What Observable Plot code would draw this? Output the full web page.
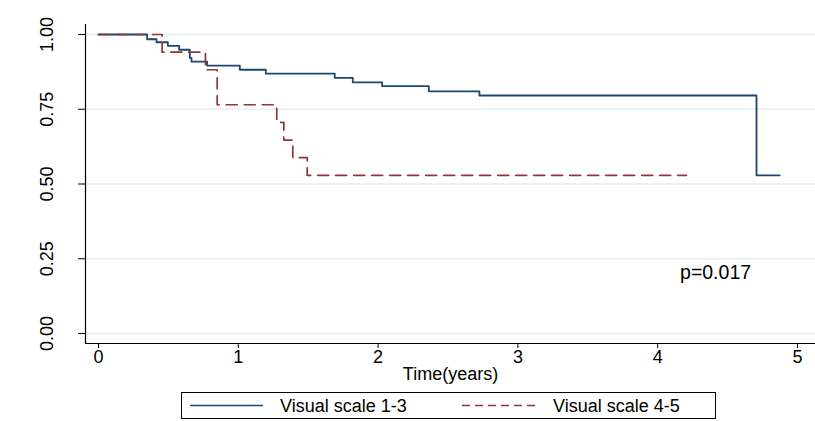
<!DOCTYPE html>
<html><head><meta charset="utf-8">
<script src="https://cdn.jsdelivr.net/npm/d3@7"></script>
<script src="https://cdn.jsdelivr.net/npm/@observablehq/plot@0.6"></script>
<style>
body{margin:0;background:#fff;font-family:"Liberation Sans",Arial,sans-serif;}
#chart{position:relative;width:815px;height:421px;overflow:hidden;}
#legend{position:absolute;left:181px;top:392px;}
</style></head>
<body><div id="chart"></div>
<script>
// Kaplan-Meier estimates
const seriesNames = ["Visual scale 1-3", "Visual scale 4-5"];
const blueTimes = [0, 0.348, 0.415, 0.496, 0.577, 0.653, 0.665, 0.777, 1.011, 1.197, 1.690, 1.819, 2.029, 2.363, 2.725, 4.707, 4.873];
const blueSurv  = [1, 0.984, 0.974, 0.962, 0.949, 0.922, 0.909, 0.896, 0.882, 0.869, 0.855, 0.840, 0.827, 0.810, 0.796, 0.529, 0.529];
const redTimes  = [0, 0.455, 0.765, 0.849, 1.275, 1.326, 1.390, 1.493, 4.206];
const redSurv   = [1, 0.941, 0.882, 0.765, 0.706, 0.647, 0.588, 0.529, 0.529];
const xTicks = [0, 1, 2, 3, 4, 5];
const yTicks = [0, 0.25, 0.5, 0.75, 1];
const xTitle = "Time(years)";
const pLabel = "p=0.017";
const colors = ["#1a476f", "#90353b"];

const rows = [
  ...blueTimes.map((t, i) => ({series: seriesNames[0], time: t, surv: blueSurv[i]})),
  ...redTimes.map((t, i) => ({series: seriesNames[1], time: t, surv: redSurv[i]}))
];
const xDomain = [-0.093, 5.129];
const yDomain = [-0.0334, 1.0334];
const font = "'Liberation Sans', Arial, sans-serif";

const plot = Plot.plot({
  width: 815, height: 390,
  marginLeft: 85, marginRight: 0, marginTop: 24, marginBottom: 47,
  style: {fontFamily: font, fontSize: "18px", color: "#000", background: "#fff", overflow: "visible"},
  x: {domain: xDomain},
  y: {domain: yDomain},
  marks: [
    Plot.ruleY(yTicks, {stroke: "#e6eef0", strokeWidth: 1.3}),
    Plot.axisY(yTicks, {tickSize: 7, tickFormat: () => "", label: null, stroke: "#000"}),
    Plot.text(yTicks, {x: xDomain[0], y: d => d, text: d => d.toFixed(2), rotate: -90, dx: -38, fontSize: 18, fill: "#000"}),
    Plot.axisX(xTicks, {tickSize: 5, tickPadding: 2, tickFormat: d => String(d), label: null, fontSize: 18, stroke: "#000"}),
    Plot.text([xTitle], {frameAnchor: "bottom", dy: 36, text: d => d, fontSize: 18, fill: "#000"}),
    Plot.ruleX([xDomain[0]], {stroke: "#000", strokeWidth: 1.2}),
    Plot.ruleY([yDomain[0]], {stroke: "#000", strokeWidth: 1.2}),
    Plot.line(rows.filter(d => d.series === seriesNames[0]), {x: "time", y: "surv", stroke: colors[0], strokeWidth: 1.8, curve: "step-after"}),
    Plot.line(rows.filter(d => d.series === seriesNames[1]), {x: "time", y: "surv", stroke: colors[1], strokeWidth: 1.7, strokeDasharray: "11,7", curve: "step-after"}),
    Plot.text([pLabel], {x: 4.16, y: 0.204, text: d => d, textAnchor: "start", fontSize: 19.5, fill: "#000"})
  ]
});
const chart = document.getElementById("chart");
chart.appendChild(plot);

// legend
const ns = "http://www.w3.org/2000/svg";
const lg = document.createElementNS(ns, "svg");
lg.setAttribute("id", "legend");
lg.setAttribute("width", 536); lg.setAttribute("height", 28);
lg.innerHTML = `
<rect x="0.5" y="0.5" width="534" height="26" fill="#fff" stroke="#000" stroke-width="1"/>
<line x1="9" x2="82" y1="13.5" y2="13.5" stroke="${colors[0]}" stroke-width="1.6"/>
<text x="99" y="13.5" dy="0.35em" font-size="18" font-family="${font}">${seriesNames[0]}</text>
<line x1="281" x2="359" y1="13.5" y2="13.5" stroke="${colors[1]}" stroke-width="1.6" stroke-dasharray="8,5"/>
<text x="372" y="13.5" dy="0.35em" font-size="18" font-family="${font}">${seriesNames[1]}</text>`;
chart.appendChild(lg);
</script>
</body></html>
